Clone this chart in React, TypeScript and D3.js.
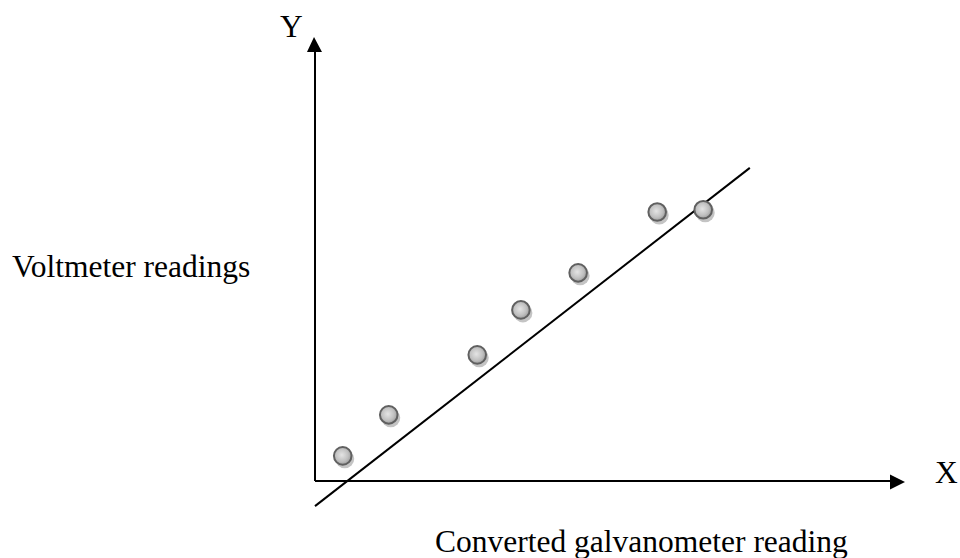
import React from "react";
import * as d3 from "d3";

const pointX = [0.47, 1.25, 2.75, 3.49, 4.46, 5.8, 6.58];
const pointY = [0.57, 1.5, 2.86, 3.88, 4.72, 6.1, 6.15];
const lineX = [0, 7.37];
const lineY = [-0.57, 7.1];
const axisLabels = ["Y", "X"];
const titleY = "Voltmeter readings";
const titleX = "Converted galvanometer reading";

export default function App() {
  const W = 960, H = 558;
  const x = d3.scaleLinear().domain([0, 10]).range([315, 905]);
  const y = d3.scaleLinear().domain([0, 10]).range([481, 40]);
  const font = "'Liberation Serif', 'Times New Roman', serif";
  const pts = pointX.map((v, i) => [v, pointY[i]] as [number, number]);
  const line = d3.line<[number, number]>().x((d) => x(d[0])).y((d) => y(d[1]));
  const diag = lineX.map((v, i) => [v, lineY[i]] as [number, number]);
  const x0 = x(0), y0 = y(0);
  const yTip = 37, xTip = 905;
  return (
    <svg width={W} height={H} style={{ position: "absolute", left: 0, top: 0, background: "#fff" }}>
      <defs>
        <radialGradient id="ball" cx="45%" cy="45%" r="60%">
          <stop offset="0%" stopColor="#e4e4e4" />
          <stop offset="60%" stopColor="#c0c0c0" />
          <stop offset="100%" stopColor="#969696" />
        </radialGradient>
      </defs>
      <rect width={W} height={H} fill="#fff" />
      <line x1={x0} y1={y0} x2={x0} y2={yTip + 12} stroke="#000" strokeWidth={2} />
      <polygon points={`${x0 - 1},${yTip} ${x0 - 8},${yTip + 15} ${x0 + 7},${yTip + 15}`} fill="#000" />
      <line x1={x0} y1={y0} x2={xTip - 12} y2={y0} stroke="#000" strokeWidth={2} />
      <polygon points={`${xTip},${y0 + 1} ${xTip - 15},${y0 - 6.5} ${xTip - 15},${y0 + 8.5}`} fill="#000" />
      <path d={line(diag) || ""} stroke="#000" strokeWidth={2} fill="none" />
      {pts.map((p, i) => (
        <g key={i}>
          <circle cx={x(p[0]) + 2} cy={y(p[1]) + 3} r={9.5} fill="#c4c4c4" />
          <circle cx={x(p[0])} cy={y(p[1])} r={8.8} fill="url(#ball)" stroke="#606060" strokeWidth={2} />
        </g>
      ))}
      <text x={280} y={37} fontFamily={font} fontSize={31.5} fill="#000">{axisLabels[0]}</text>
      <text x={935} y={483} fontFamily={font} fontSize={31.5} fill="#000">{axisLabels[1]}</text>
      <text x={12} y={277} fontFamily={font} fontSize={31.5} fill="#000">{titleY}</text>
      <text x={435} y={552} fontFamily={font} fontSize={31.5} fill="#000">{titleX}</text>
    </svg>
  );
}
